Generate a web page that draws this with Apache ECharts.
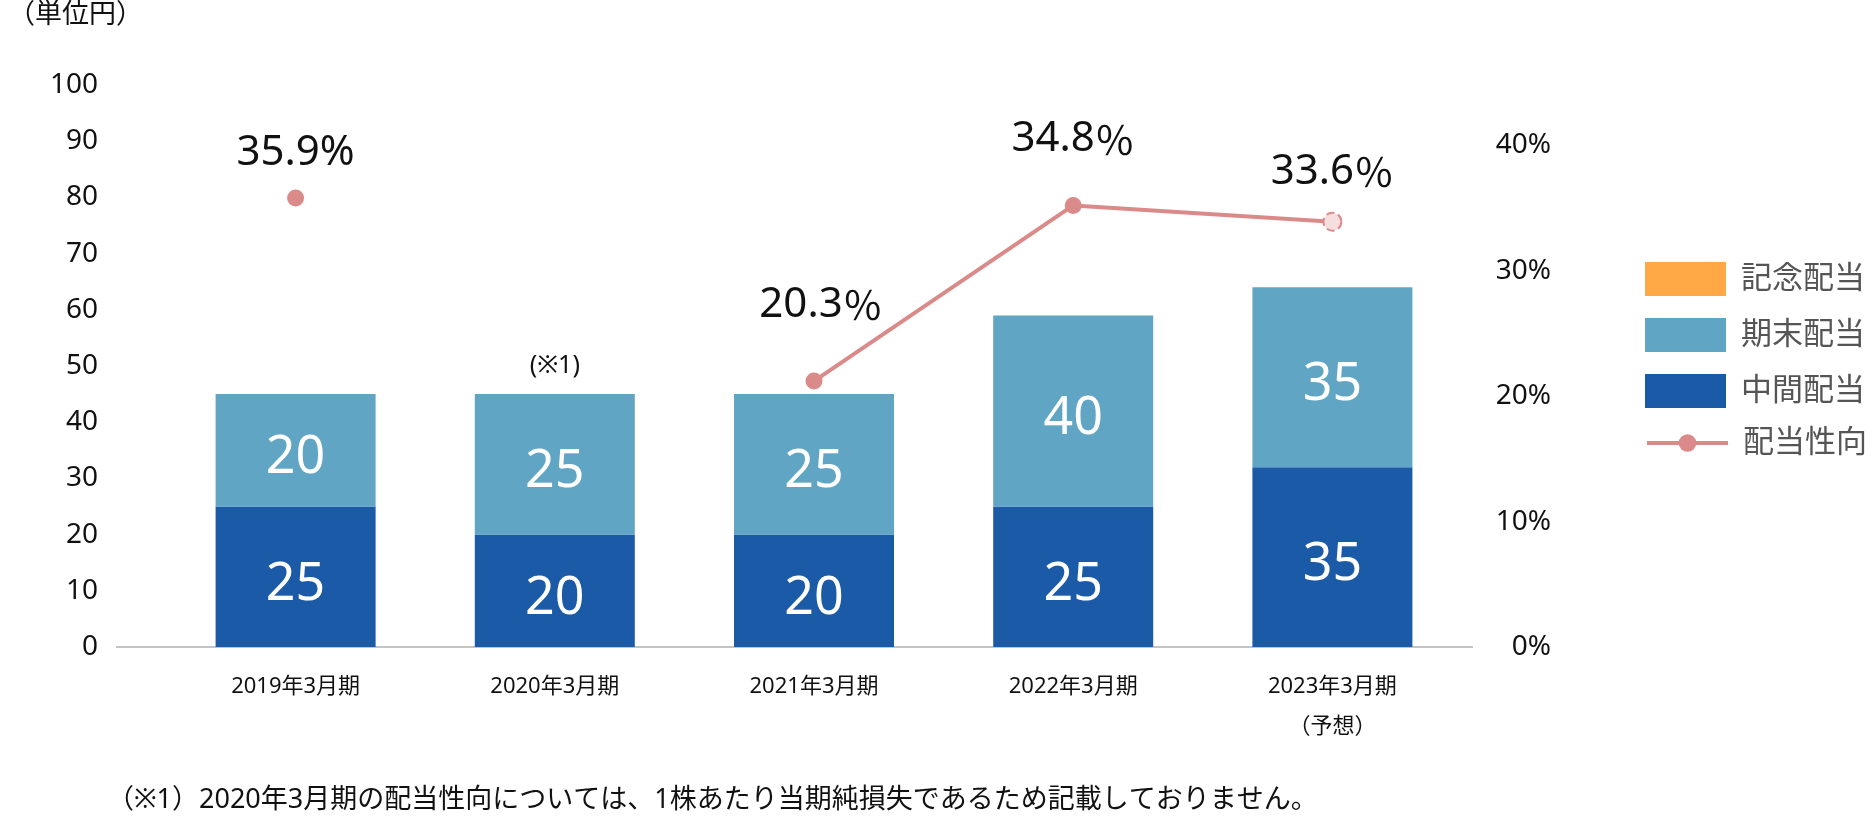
<!DOCTYPE html>
<html>
<head>
<meta charset="utf-8">
<script src="https://cdn.jsdelivr.net/npm/echarts@6/dist/echarts.min.js"></script>
<style>
  html, body { margin: 0; padding: 0; background: #fff; }
  #chart { width: 1874px; height: 820px; }
</style>
</head>
<body>
<div id="chart"></div>
<script>
// ---- data ----
const categories = ['2019年3月期', '2020年3月期', '2021年3月期', '2022年3月期', '2023年3月期\n（予想）'];
// bar heights as drawn in the picture
const interimValues = [25, 20, 20, 25, 32];
const finalValues = [20, 25, 25, 34, 32];
const commemorativeValues = [null, null, null, null, null];
// printed labels inside the bars
const interimLabels = ['25', '20', '20', '25', '35'];
const finalLabels = ['20', '25', '25', '40', '35'];
// payout ratio (%) as drawn, and printed labels (number part, percent sign)
const payoutRatio = [35.8, null, 21.2, 35.2, 33.9];
const payoutNumbers = ['35.9', '', '20.3', '34.8', '33.6'];
const payoutSigns = ['%', '', '％', '％', '％'];
const forecastIndex = 4;
const noteIndex = 1;
const noteText = '(※1)';
const unitText = '（単位円）';
const footnoteText = '（※1）2020年3月期の配当性向については、1株あたり当期純損失であるため記載しておりません。';
const leftAxisMax = 100;
const rightAxisMax = 44.8;

// ---- styles ----
const FONT = '"Noto Sans", "Noto Sans CJK JP", sans-serif';
const CJK = '"Noto Sans CJK JP", sans-serif';
const C_INTERIM = '#1A5AA6';
const C_FINAL = '#60A5C4';
const C_COMM = '#FFA845';
const C_LINE = '#DB8A8A';
const labelLift = [[0, -45], [0, 0], [7, -76], [0, -66], [0, -50]];

const chart = echarts.init(document.getElementById('chart'), null, { renderer: 'canvas' });

const barLabel = (labels) => ({
  show: true, position: 'inside', color: '#fff', fontSize: 52, fontFamily: FONT, offset: [0, 8],
  formatter: (p) => labels[p.dataIndex]
});

const option = {
  animation: false,
  backgroundColor: '#fff',
  textStyle: { fontFamily: FONT },
  grid: { left: 166, right: 412, top: 85, bottom: 173, containLabel: false },
  legend: [
    {
      data: ['記念配当', '期末配当', '中間配当'],
      orient: 'vertical', left: 1640, top: 257, icon: 'rect',
      itemWidth: 81, itemHeight: 34, itemGap: 22, selectedMode: false,
      textStyle: { fontSize: 31, color: '#555', fontFamily: FONT, lineHeight: 34, padding: [0, 0, 0, 10] }
    },
    {
      data: ['配当性向'],
      orient: 'vertical', left: 1640, top: 421,
      itemWidth: 81, itemHeight: 22, selectedMode: false,
      lineStyle: { width: 4, color: C_LINE },
      textStyle: { fontSize: 31, color: '#555', fontFamily: FONT, lineHeight: 34, padding: [0, 0, 0, 10] }
    }
  ],
  xAxis: {
    type: 'category', data: categories,
    axisLine: { show: false }, axisTick: { show: false },
    axisLabel: { fontSize: 22, color: '#111', lineHeight: 40, margin: 20, fontFamily: FONT }
  },
  yAxis: [
    {
      type: 'value', min: 0, max: leftAxisMax, interval: 10,
      axisLine: { show: false }, axisTick: { show: false }, splitLine: { show: false },
      axisLabel: { fontSize: 28, color: '#111', margin: 68, fontFamily: FONT }
    },
    {
      type: 'value', min: 0, max: rightAxisMax, interval: 10, position: 'right',
      axisLine: { show: false }, axisTick: { show: false }, splitLine: { show: false },
      axisLabel: {
        fontSize: 28, color: '#111', margin: 89, align: 'right', fontFamily: FONT,
        formatter: (v) => (Math.abs(v % 10) < 1e-9 ? v + '%' : '')
      }
    }
  ],
  series: [
    {
      name: '中間配当', type: 'bar', stack: 'div', barWidth: 160,
      itemStyle: { color: C_INTERIM },
      label: barLabel(interimLabels),
      data: interimValues
    },
    {
      name: '期末配当', type: 'bar', stack: 'div', barWidth: 160,
      itemStyle: { color: C_FINAL },
      label: barLabel(finalLabels),
      data: finalValues,
      markPoint: {
        symbol: 'circle', symbolSize: 0,
        label: { show: true, formatter: noteText, color: '#111', fontSize: 25, fontFamily: FONT, offset: [0, -28] },
        data: [{ coord: [noteIndex, interimValues[noteIndex] + finalValues[noteIndex]], value: 0 }]
      }
    },
    {
      name: '記念配当', type: 'bar', stack: 'div', barWidth: 160,
      itemStyle: { color: C_COMM },
      data: commemorativeValues
    },
    {
      name: '配当性向', type: 'line', yAxisIndex: 1,
      symbol: 'circle', symbolSize: 17, connectNulls: false,
      lineStyle: { color: C_LINE, width: 4 },
      itemStyle: { color: C_LINE },
      data: payoutRatio.map((v, i) => {
        const item = {
          value: v,
          label: {
            show: v != null, position: 'inside', offset: labelLift[i],
            formatter: '{n|' + payoutNumbers[i] + '}{' + (payoutSigns[i] === '%' ? 'h' : 'p') + '|' + payoutSigns[i] + '}',
            rich: {
              n: { color: '#111', fontSize: 42, fontFamily: FONT },
              h: { color: '#111', fontSize: 42, fontFamily: FONT },
              p: { color: '#111', fontSize: 40, fontFamily: CJK }
            }
          }
        };
        if (i === forecastIndex) {
          item.itemStyle = { color: '#F6DEDE', borderColor: C_LINE, borderType: 'dashed', borderWidth: 2 };
          item.symbolSize = 18;
        }
        return item;
      })
    }
  ]
};

chart.setOption(option);

const y0 = chart.convertToPixel({ yAxisIndex: 0 }, 0);
chart.setOption({
  graphic: [
    { type: 'line', shape: { x1: 116, y1: y0, x2: 1473, y2: y0 }, style: { stroke: '#c4c4c4', lineWidth: 2 }, z: 0 },
    { type: 'text', left: 8, top: 2, style: { text: unitText, fontSize: 27, fill: '#111', fontFamily: FONT } },
    { type: 'text', left: 107, top: 787, style: { text: footnoteText, fontSize: 27, fill: '#111', fontFamily: FONT } }
  ]
});
</script>
</body>
</html>
